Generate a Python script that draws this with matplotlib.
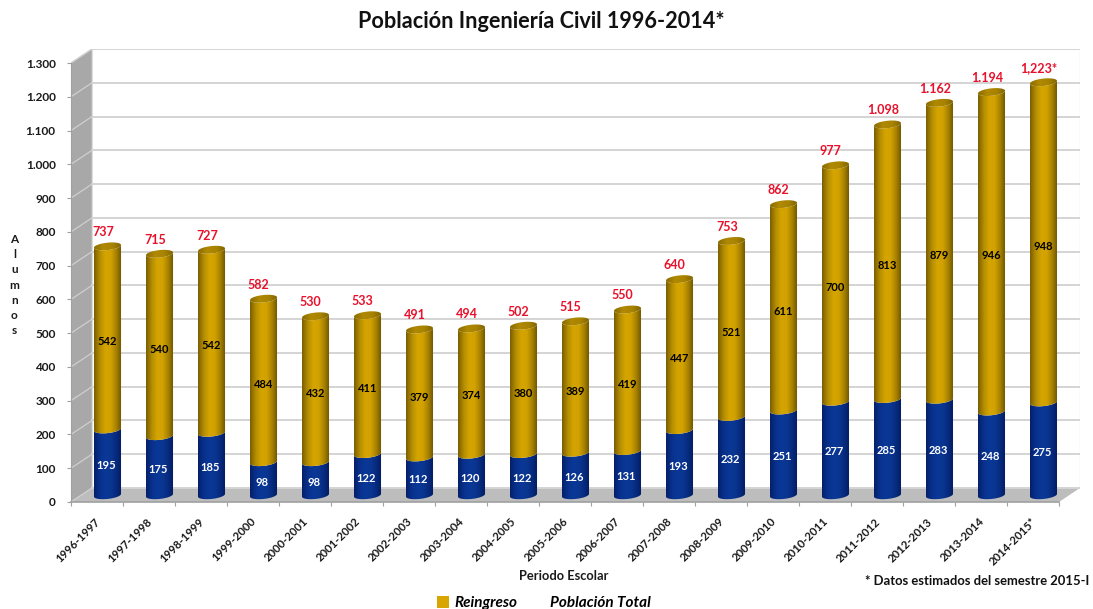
# -*- coding: utf-8 -*-
import matplotlib
matplotlib.use('Agg')
import matplotlib.pyplot as plt
import numpy as np
from matplotlib.colors import LinearSegmentedColormap
from matplotlib.patches import Patch, PathPatch, Polygon
from matplotlib.path import Path

periodos = ['1996-1997', '1997-1998', '1998-1999', '1999-2000', '2000-2001', '2001-2002', '2002-2003',
            '2003-2004', '2004-2005', '2005-2006', '2006-2007', '2007-2008', '2008-2009', '2009-2010',
            '2010-2011', '2011-2012', '2012-2013', '2013-2014', '2014-2015*']
nuevo_ingreso = [195, 175, 185, 98, 98, 122, 112, 120, 122, 126, 131, 193, 232, 251, 277, 285, 283, 248, 275]
reingreso = [542, 540, 542, 484, 432, 411, 379, 374, 380, 389, 419, 447, 521, 611, 700, 813, 879, 946, 948]
totales = ['737', '715', '727', '582', '530', '533', '491', '494', '502', '515', '550', '640', '753', '862',
           '977', '1.098', '1.162', '1.194', '1,223*']
y_ticks = list(range(0, 1301, 100))
y_labels = ['0', '100', '200', '300', '400', '500', '600', '700', '800', '900',
            '1.000', '1.100', '1.200', '1.300']

plt.rcParams['font.family'] = ['Lato', 'DejaVu Sans']
plt.rcParams['font.weight'] = 'bold'

W, H = 1093, 609
fig = plt.figure(figsize=(W / 100, H / 100), dpi=100)
ax = fig.add_axes([71 / W, 1 - 502 / H, 1009 / W, 453 / H])

# profundidad del efecto 3D, en unidades de datos
dx, dy = 0.404, 41.5
n = len(periodos)
ax.set_xlim(0, n + dx)
ax.set_ylim(0, 1300 + dy)

# paredes y piso
ax.add_patch(Polygon([(0, 0), (dx, dy), (dx, 1300 + dy), (0, 1300)], fc='#a8a8a8', ec='#c4c4c4', lw=0.8, zorder=1))
ax.add_patch(Polygon([(0, 0), (n, 0), (n + dx, dy), (dx, dy)], fc='#bdbdbd', ec='none', zorder=1))
ax.plot([n + dx, n + dx], [dy, 1300 + dy], color='#e6e6e6', lw=1, zorder=1)
for v in y_ticks:
    ax.plot([dx, n + dx], [v + dy, v + dy], color='#d4d4d4', lw=1.4, zorder=1)
    ax.plot([0, dx], [v, v + dy], color='#cfcfcf', lw=0.9, zorder=1)

gold = LinearSegmentedColormap.from_list('gold', ['#7a5f00', '#b48c00', '#d4a400', '#d2a200', '#a88200', '#6a5200'])
blue = LinearSegmentedColormap.from_list('blue', ['#05206a', '#08308c', '#0a3896', '#0a3692', '#072a7e', '#041c5e'])
tapa = LinearSegmentedColormap.from_list('tapa', ['#8a6c00', '#b08900', '#a88300', '#7d6200'])
grad = np.linspace(0, 1, 64).reshape(1, -1)

ancho = 0.52
base = 20
e_h = 11
tilt = 4
t = np.linspace(np.pi, 2 * np.pi, 30)


def arco(cx, y, tt):
    return cx + ancho / 2 * np.cos(tt), y + e_h * np.sin(tt) + tilt * np.cos(tt)


def pintar(verts, cx, y0, y1, cmap, z):
    verts = np.vstack([verts, verts[0]])
    patch = PathPatch(Path(verts), fc='none', ec='none', zorder=z)
    ax.add_patch(patch)
    im = ax.imshow(grad, cmap=cmap, aspect='auto', zorder=z,
                   extent=(cx - ancho / 2, cx + ancho / 2, y0, y1))
    im.set_clip_path(patch)


for i in range(n):
    cx = i + 0.5 + dx / 2
    b = nuevo_ingreso[i]
    r = reingreso[i]
    y_b = base + b
    y_t = y_b + r

    # tramo azul
    x0, y0 = arco(cx, base, t)
    x1, y1 = arco(cx, y_b, t[::-1])
    pintar(np.vstack([np.c_[x0, y0], np.c_[x1, y1]]), cx, base - e_h - tilt, y_b + e_h, blue, 3)

    # tramo dorado
    x0, y0 = arco(cx, y_b, t)
    x1, y1 = arco(cx, y_t, t[::-1])
    pintar(np.vstack([np.c_[x0, y0], np.c_[x1, y1]]), cx, y_b - e_h - tilt, y_t + e_h, gold, 4)

    # tapa del cilindro
    tt = np.linspace(0, 2 * np.pi, 60)
    x2, y2 = arco(cx, y_t, tt)
    pintar(np.c_[x2, y2], cx, y_t - e_h - tilt, y_t + e_h + tilt, tapa, 5)

    ax.text(cx - 0.02, base + b / 2 - 10, str(b), color='white', ha='center', va='center', fontsize=8, zorder=6)
    ax.text(cx, y_b + r / 2 - 12, str(r), color='black', ha='center', va='center', fontsize=8, zorder=6)
    ax.text(cx - 0.09, y_t + 42, totales[i], color='#e8102a', ha='center', va='center', fontsize=9, zorder=6)

ax.set_xlim(0, n + dx)
ax.set_ylim(0, 1300 + dy)

for s in ['top', 'right']:
    ax.spines[s].set_visible(False)
ax.spines['left'].set_bounds(0, 1300)
ax.spines['bottom'].set_bounds(0, n)
ax.spines['left'].set_color('#a0a0a0')
ax.spines['bottom'].set_color('#a0a0a0')
ax.spines['bottom'].set_linewidth(1.2)

ax.set_yticks(y_ticks)
ax.set_yticklabels(y_labels, fontsize=8.5, color='#1a1a1a')
ax.set_xticks(np.arange(n + 1))
ax.set_xticklabels([])
ax.set_xticks(np.arange(n) + 0.45, minor=True)
ax.set_xticklabels(periodos, minor=True, rotation=45, ha='right', rotation_mode='anchor',
                   fontsize=8.2, color='#1a1a1a')
ax.tick_params(axis='x', which='minor', length=0, pad=10)
ax.tick_params(axis='x', which='major', length=3, color='#a0a0a0')
ax.tick_params(axis='y', length=3, color='#a0a0a0', pad=8)

ax.set_xlabel('Periodo Escolar', fontsize=9.3, color='#1a1a1a', fontweight='bold')
ax.xaxis.set_label_coords(0.488, -0.15, transform=ax.transAxes)
ax.set_ylabel('A\nl\nu\nm\nn\no\ns', rotation=0, fontsize=8.5, color='#1a1a1a', linespacing=1.45,
              ha='center', va='center', fontweight='bold')
ax.yaxis.set_label_coords(-0.056, 0.479, transform=ax.transAxes)

fig.text(541 / W, 1 - 21 / H, 'Población Ingeniería Civil 1996-2014*', ha='center', va='center',
         fontsize=15.6, color='#111111')
fig.text(865 / W, 1 - 581 / H, '* Datos estimados del semestre 2015-I', ha='left', va='center',
         fontsize=9.4, color='#111111')

handles = [Patch(fc='#d9a600', ec='none'), Patch(fc='none', ec='none')]
fig.legend(handles, ['Reingreso', 'Población Total'], ncols=2, frameon=False, loc='center',
           bbox_to_anchor=(544 / W, 1 - 603 / H), handlelength=0.8, handleheight=0.8, handletextpad=0.35,
           columnspacing=1.0, prop={'size': 11, 'style': 'italic', 'weight': 'bold'})

fig.savefig('out.png', dpi=100, facecolor='white')
